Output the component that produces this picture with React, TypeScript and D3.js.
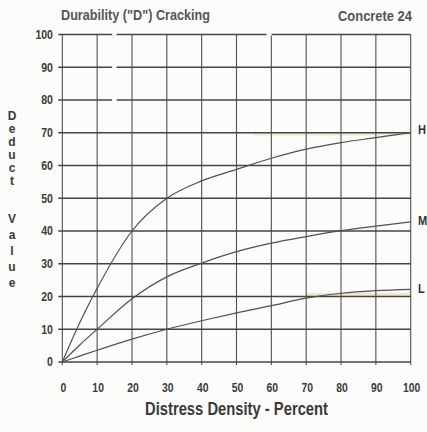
import React from "react";
import * as d3 from "d3";

const W = 427;
const H = 432;

const xTicks = [0, 10, 20, 30, 40, 50, 60, 70, 80, 90, 100];
const yTicks = [0, 10, 20, 30, 40, 50, 60, 70, 80, 90, 100];

const densityX = [0, 5, 10, 20, 30, 40, 50, 60, 70, 80, 90, 100];
const highY = [0, 12, 22.5, 40, 50, 55.3, 58.8, 62.2, 65, 67, 68.5, 70];
const mediumY = [0, 5.2, 10, 19.3, 26, 30.2, 33.7, 36.3, 38.3, 40.1, 41.5, 42.8];
const lowY = [0, 1.8, 3.6, 7, 10, 12.6, 15, 17.2, 19.5, 21, 21.8, 22.2];

const seriesLabels = ["H", "M", "L"];
const seriesValues = [highY, mediumY, lowY];

const title = "Durability (\"D\") Cracking";
const subtitle = "Concrete 24";
const xTitle = "Distress Density - Percent";
const yTitleTop = ["D", "e", "d", "u", "c", "t"];
const yTitleBottom = ["V", "a", "l", "u", "e"];

const FONT = "'Liberation Sans', Arial, sans-serif";

export default function App() {
  const x = d3.scaleLinear().domain([0, 100]).range([62.3, 410.7]);
  const y = d3.scaleLinear().domain([0, 100]).range([362, 34.5]);

  const line = d3
    .line<number>()
    .x((_, i) => x(densityX[i]))
    .y((v) => y(v))
    .curve(d3.curveMonotoneX);

  // scan artifacts: small gaps in some horizontal grid lines
  const gaps: [number, number, number][] = [
    [100, 14.3, 15.6],
    [90, 14.3, 15.6],
    [80, 14.3, 15.6],
    [100, 58.6, 60.1],
  ];

  return (
    <div style={{ position: "absolute", left: 0, top: 0 }}>
      <svg width={W} height={H} style={{ display: "block" }}>
        <rect x={0} y={0} width={W} height={H} fill="#fcfcfa" />
        {/* faint tint on scan */}
        <line x1={x(70)} x2={x(100)} y1={y(20.6)} y2={y(20.6)} stroke="#f3d9a8" strokeWidth={3} opacity={0.6} />
        <line x1={x(55)} x2={x(100)} y1={y(69.6)} y2={y(69.6)} stroke="#f3d9a8" strokeWidth={3} opacity={0.5} />
        {/* vertical grid */}
        {xTicks.map((t) => (
          <line
            key={"vx" + t}
            x1={x(t)}
            x2={x(t)}
            y1={y(100)}
            y2={y(0) + 3}
            stroke="#505050"
            strokeWidth={1.1}
          />
        ))}
        {/* horizontal grid */}
        {yTicks.map((t) => (
          <line
            key={"hy" + t}
            x1={x(0) - 4}
            x2={x(100)}
            y1={y(t)}
            y2={y(t)}
            stroke="#444"
            strokeWidth={1.6}
          />
        ))}
        {gaps.map(([v, a, b], i) => (
          <rect key={"g" + i} x={x(a)} y={y(v) - 1.2} width={x(b) - x(a)} height={2.4} fill="#fcfcfa" />
        ))}
        {/* y tick labels */}
        {yTicks.map((t) => (
          <text
            key={"yl" + t}
            transform={`translate(53,${y(t)}) scale(0.88,1)`}
            dy="0.36em"
            textAnchor="end"
            fontFamily={FONT}
            fontWeight="bold"
            fontSize={12}
            fill="#3a3a3a"
          >
            {t}
          </text>
        ))}
        {/* x tick labels */}
        {xTicks.map((t) => (
          <text
            key={"xl" + t}
            transform={`translate(${x(t) + 1},391.5) scale(0.8,1)`}
            textAnchor="middle"
            fontFamily={FONT}
            fontWeight="bold"
            fontSize={13}
            fill="#3a3a3a"
          >
            {t}
          </text>
        ))}
        {/* curves */}
        {seriesValues.map((vals, i) => (
          <path
            key={"c" + i}
            d={line(vals) || ""}
            fill="none"
            stroke="#505050"
            strokeWidth={1.2}
          />
        ))}
        {/* series labels */}
        {seriesValues.map((vals, i) => (
          <text
            key={"sl" + i}
            transform={`translate(418,${y(vals[vals.length - 1]) + (i === 0 ? -3 : i === 1 ? -2 : -1)}) scale(0.85,1)`}
            dy="0.36em"
            fontFamily={FONT}
            fontWeight="bold"
            fontSize={13}
            fill="#333"
          >
            {seriesLabels[i]}
          </text>
        ))}
        {/* titles */}
        <text
          x={61}
          y={20}
          textLength={149}
          lengthAdjust="spacingAndGlyphs"
          fontFamily={FONT}
          fontWeight="bold"
          fontSize={15}
          fill="#555"
        >
          {title}
        </text>
        <text
          x={338}
          y={21}
          textLength={74}
          lengthAdjust="spacingAndGlyphs"
          fontFamily={FONT}
          fontWeight="bold"
          fontSize={15}
          fill="#555"
        >
          {subtitle}
        </text>
        <text
          x={145}
          y={415}
          textLength={183}
          lengthAdjust="spacingAndGlyphs"
          fontFamily={FONT}
          fontWeight="bold"
          fontSize={18}
          fill="#3a3a3a"
        >
          {xTitle}
        </text>
        {yTitleTop.map((c, i) => (
          <text
            key={"yt" + i}
            x={12}
            y={116 + i * 13}
            dy="0.36em"
            textAnchor="middle"
            fontFamily={FONT}
            fontWeight="bold"
            fontSize={12}
            fill="#3a3a3a"
          >
            {c}
          </text>
        ))}
        {yTitleBottom.map((c, i) => (
          <text
            key={"yb" + i}
            x={12}
            y={219 + i * 16}
            dy="0.36em"
            textAnchor="middle"
            fontFamily={FONT}
            fontWeight="bold"
            fontSize={12}
            fill="#3a3a3a"
          >
            {c}
          </text>
        ))}
      </svg>
    </div>
  );
}
